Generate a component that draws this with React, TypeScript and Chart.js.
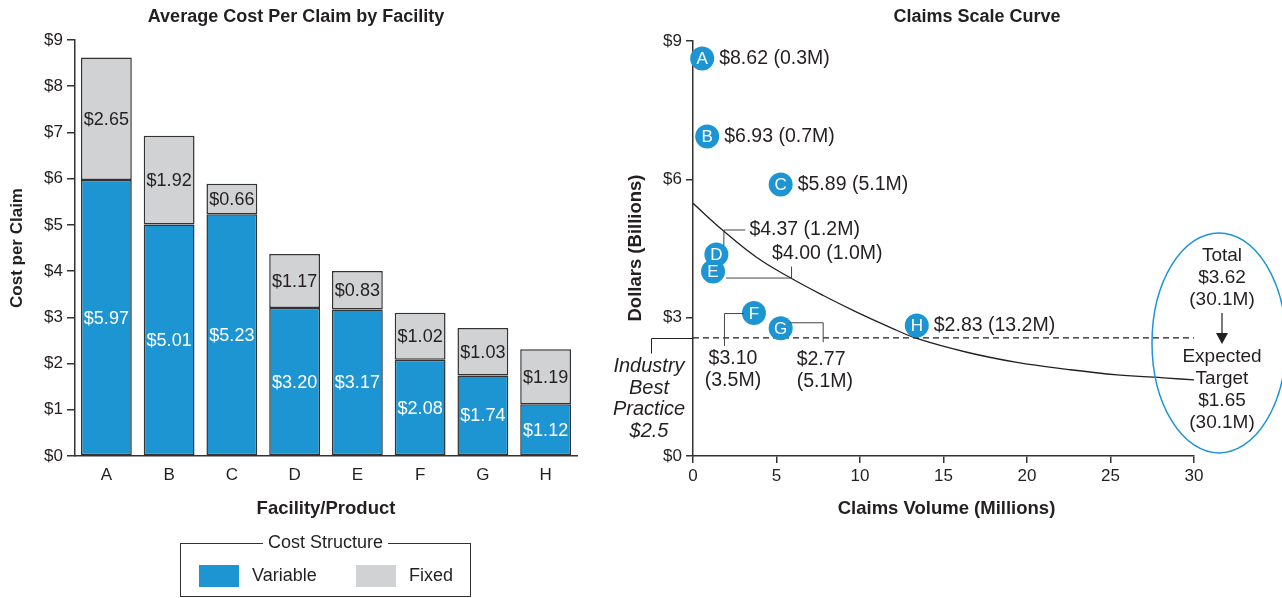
import React, { useEffect, useRef } from 'react';
import { Chart, registerables } from 'chart.js';

Chart.register(...registerables);

// ---------- data: left chart ----------
const facilities = ['A', 'B', 'C', 'D', 'E', 'F', 'G', 'H'];
const variableCost = [5.97, 5.01, 5.23, 3.2, 3.17, 2.08, 1.74, 1.12];
const fixedCost = [2.65, 1.92, 0.66, 1.17, 0.83, 1.02, 1.03, 1.19];
const costTickMax = 9;
const costTickStep = 1;

// ---------- data: right chart ----------
const scaleLetters = ['A', 'B', 'C', 'D', 'E', 'F', 'G', 'H'];
const scaleCost = [8.62, 6.93, 5.89, 4.37, 4.0, 3.1, 2.77, 2.83];
const scaleVolume = [0.3, 0.7, 5.1, 1.2, 1.0, 3.5, 5.1, 13.2];
const scalePlotX = [0.55, 0.85, 5.25, 1.4, 1.2, 3.65, 5.25, 13.4];
const curveX = [0, 1.8, 3.8, 5.8, 7.8, 9.8, 11.8, 13.4, 16.4, 19.4, 22.4, 25.4, 28.4, 30];
const curveY = [5.48, 4.89, 4.31, 3.87, 3.48, 3.12, 2.79, 2.55, 2.25, 2.03, 1.88, 1.76, 1.69, 1.65];
const bestPractice = 2.5;
const bestPracticeLine = 2.56;
const totalCost = 3.62;
const totalVolume = 30.1;
const targetCost = 1.65;
const volumeTickMax = 30;
const volumeTickStep = 5;
const dollarTickMax = 9;
const dollarTickStep = 3;

const FONT = "'Liberation Sans', Arial, Helvetica, sans-serif";
const INK = '#231f20';
const BLUE = '#1e95d3';
const GRAY = '#d1d2d4';
const AXIS = '#333333';

const money = (v: number) => '$' + v.toFixed(2);

const leftPlugin = {
  id: 'leftDecor',
  afterDatasetsDraw(chart: any) {
    const ctx = chart.ctx;
    ctx.save();
    ctx.font = `18px ${FONT}`;
    ctx.textAlign = 'center';
    ctx.textBaseline = 'middle';
    chart.data.datasets.forEach((ds: any, di: number) => {
      const meta = chart.getDatasetMeta(di);
      meta.data.forEach((bar: any, i: number) => {
        const p = bar.getProps(['x', 'y', 'base'], true);
        ctx.fillStyle = di === 0 ? '#ffffff' : INK;
        ctx.fillText(money(ds.data[i]), p.x, (p.y + p.base) / 2 + 1);
      });
    });
    ctx.restore();
  },
  afterDraw(chart: any) {
    const ctx = chart.ctx;
    const area = chart.chartArea;
    ctx.save();
    ctx.fillStyle = INK;
    ctx.textBaseline = 'middle';
    ctx.textAlign = 'center';
    ctx.font = `bold 18px ${FONT}`;
    ctx.fillText('Average Cost Per Claim by Facility', 296, 17);
    ctx.font = `bold 18.5px ${FONT}`;
    ctx.fillText('Facility/Product', (area.left + area.right) / 2, 509);
    ctx.save();
    ctx.font = `bold 17px ${FONT}`;
    ctx.translate(17, 248);
    ctx.rotate(-Math.PI / 2);
    ctx.fillText('Cost per Claim', 0, 0);
    ctx.restore();

    // legend box
    const bx = 180.5, by = 543.5, bw = 290, bh = 53;
    ctx.strokeStyle = AXIS;
    ctx.lineWidth = 1;
    ctx.strokeRect(bx, by, bw, bh);
    ctx.font = `18px ${FONT}`;
    const title = 'Cost Structure';
    const tw = ctx.measureText(title).width;
    const tcx = bx + bw / 2;
    ctx.fillStyle = '#ffffff';
    ctx.fillRect(tcx - tw / 2 - 5, by - 3, tw + 10, 6);
    ctx.fillStyle = INK;
    ctx.fillText(title, tcx, by);
    ctx.textAlign = 'left';
    const items = chart.data.datasets;
    const xs = [199, 356];
    items.forEach((ds: any, i: number) => {
      ctx.fillStyle = ds.backgroundColor;
      ctx.fillRect(xs[i], 565, 40, 22);
      ctx.fillStyle = INK;
      ctx.fillText(ds.label, xs[i] + 53, 576);
    });
    ctx.restore();
  },
};

const rightPlugin = {
  id: 'rightDecor',
  afterDatasetsDraw(chart: any) {
    const ctx = chart.ctx;
    const area = chart.chartArea;
    const ys = chart.scales.y;
    const meta = chart.getDatasetMeta(0);
    const pts = meta.data.map((p: any) => ({ x: p.x, y: p.y }));
    ctx.save();
    // letters in circles
    ctx.fillStyle = '#ffffff';
    ctx.font = `17px ${FONT}`;
    ctx.textAlign = 'center';
    ctx.textBaseline = 'middle';
    pts.forEach((p: any, i: number) => ctx.fillText(scaleLetters[i], p.x, p.y + 1));

    const label = (i: number) => `${money(scaleCost[i])} (${scaleVolume[i].toFixed(1)}M)`;
    ctx.fillStyle = INK;
    ctx.font = `19.5px ${FONT}`;
    ctx.textAlign = 'left';
    [0, 1, 2, 7].forEach((i) => ctx.fillText(label(i), pts[i].x + 17, pts[i].y));

    ctx.strokeStyle = '#444';
    ctx.lineWidth = 1;
    const poly = (arr: number[][]) => {
      ctx.beginPath();
      arr.forEach(([x, y], k) => (k === 0 ? ctx.moveTo(x, y) : ctx.lineTo(x, y)));
      ctx.stroke();
    };
    // D
    const d = pts[3];
    poly([[d.x + 7.5, d.y - 9], [d.x + 7.5, d.y - 24.5], [d.x + 29, d.y - 24.5]]);
    ctx.fillText(label(3), d.x + 33, d.y - 25);
    // E
    const e = pts[4];
    poly([[e.x + 13, e.y + 6.5], [e.x + 78.5, e.y + 6.5], [e.x + 78.5, e.y - 5]]);
    ctx.fillText(label(4), e.x + 59, e.y - 18);
    // F
    const f = pts[5];
    poly([[f.x - 10, f.y + 0.5], [f.x - 29.5, f.y + 0.5], [f.x - 29.5, f.y + 33]]);
    ctx.textAlign = 'center';
    ctx.fillText(money(scaleCost[5]), f.x - 21, f.y + 46);
    ctx.fillText(`(${scaleVolume[5].toFixed(1)}M)`, f.x - 21, f.y + 68);
    // G
    const g = pts[6];
    poly([[g.x + 9, g.y - 5.5], [g.x + 42.5, g.y - 5.5], [g.x + 42.5, g.y + 14]]);
    ctx.textAlign = 'left';
    ctx.fillText(money(scaleCost[6]), g.x + 16, g.y + 31);
    ctx.fillText(`(${scaleVolume[6].toFixed(1)}M)`, g.x + 16, g.y + 53);

    // industry best practice
    const yl = Math.round(ys.getPixelForValue(bestPracticeLine)) + 0.5;
    ctx.strokeStyle = INK;
    poly([[area.left - 41.5, yl + 15], [area.left - 41.5, yl], [area.left, yl]]);
    ctx.font = `italic 20px ${FONT}`;
    ctx.textAlign = 'center';
    const ix = area.left - 44;
    ['Industry', 'Best', 'Practice', `$${bestPractice}`].forEach((t, k) =>
      ctx.fillText(t, ix, yl + 28 + k * 21.7)
    );

    // ellipse
    const ty = ys.getPixelForValue(targetCost);
    const cx = area.right + 25;
    ctx.strokeStyle = BLUE;
    ctx.lineWidth = 1.5;
    ctx.beginPath();
    ctx.ellipse(cx, ty - 37, 67, 110, 0, 0, Math.PI * 2);
    ctx.stroke();
    ctx.fillStyle = INK;
    ctx.font = `19px ${FONT}`;
    const tx = cx + 3;
    ['Total', money(totalCost), `(${totalVolume.toFixed(1)}M)`].forEach((t, k) =>
      ctx.fillText(t, tx, ty - 124 + k * 22)
    );
    ['Expected', 'Target', money(targetCost), `(${totalVolume.toFixed(1)}M)`].forEach((t, k) =>
      ctx.fillText(t, tx, ty - 23 + k * 22)
    );
    ctx.strokeStyle = INK;
    ctx.lineWidth = 1.2;
    poly([[tx, ty - 67], [tx, ty - 46]]);
    ctx.beginPath();
    ctx.moveTo(tx - 6, ty - 47);
    ctx.lineTo(tx + 6, ty - 47);
    ctx.lineTo(tx, ty - 36);
    ctx.closePath();
    ctx.fill();
    ctx.restore();
  },
  afterDraw(chart: any) {
    const ctx = chart.ctx;
    const area = chart.chartArea;
    ctx.save();
    ctx.fillStyle = INK;
    ctx.textAlign = 'center';
    ctx.textBaseline = 'middle';
    ctx.font = `bold 18px ${FONT}`;
    ctx.fillText('Claims Scale Curve', 377, 17);
    ctx.font = `bold 18.5px ${FONT}`;
    ctx.fillText('Claims Volume (Millions)', (area.left + area.right) / 2 + 3, 509);
    ctx.translate(36, 248);
    ctx.rotate(-Math.PI / 2);
    ctx.fillText('Dollars (Billions)', 0, 0);
    ctx.restore();
  },
};

export default function App() {
  const leftRef = useRef<HTMLCanvasElement>(null);
  const rightRef = useRef<HTMLCanvasElement>(null);

  useEffect(() => {
    Chart.defaults.font.family = FONT;
    Chart.defaults.color = INK;

    const left = new Chart(leftRef.current as HTMLCanvasElement, {
      type: 'bar',
      data: {
        labels: facilities,
        datasets: [
          {
            label: 'Variable',
            data: variableCost,
            backgroundColor: BLUE,
            borderColor: AXIS,
            borderWidth: 1.5,
            borderSkipped: false,
            barPercentage: 0.81,
            categoryPercentage: 1,
          },
          {
            label: 'Fixed',
            data: fixedCost,
            backgroundColor: GRAY,
            borderColor: AXIS,
            borderWidth: 1.5,
            borderSkipped: false,
            barPercentage: 0.81,
            categoryPercentage: 1,
          },
        ],
      },
      options: {
        responsive: false,
        animation: false,
        events: [],
        layout: { padding: { left: 0, right: 23, top: 40, bottom: 112 } },
        plugins: { legend: { display: false }, tooltip: { enabled: false }, title: { display: false } },
        scales: {
          x: {
            stacked: true,
            grid: { display: false, drawTicks: false },
            border: { display: true, color: AXIS, width: 1.5 },
            ticks: { color: INK, font: { size: 17 }, padding: 9 },
            afterFit: (s: any) => {
              s.height = 30;
            },
          },
          y: {
            stacked: true,
            min: 0,
            max: costTickMax,
            grid: { display: true, drawOnChartArea: false, drawTicks: true, tickLength: 8, color: AXIS, lineWidth: 1.5 },
            border: { display: true, color: AXIS, width: 1.5 },
            ticks: { stepSize: costTickStep, color: INK, font: { size: 17 }, padding: 4, callback: (v: any) => '$' + v },
            afterFit: (s: any) => {
              s.width = 75;
            },
          },
        },
      },
      plugins: [leftPlugin],
    } as any);

    const right = new Chart(rightRef.current as HTMLCanvasElement, {
      type: 'scatter',
      data: {
        datasets: [
          {
            label: 'Facilities',
            data: scalePlotX.map((x, i) => ({ x, y: scaleCost[i] })),
            pointRadius: 12,
            pointHoverRadius: 12,
            pointBackgroundColor: BLUE,
            pointBorderColor: BLUE,
            pointBorderWidth: 0,
            clip: false,
          },
          {
            label: 'Scale curve',
            data: curveX.map((x, i) => ({ x, y: curveY[i] })),
            showLine: true,
            borderColor: INK,
            borderWidth: 1.3,
            pointRadius: 0,
            tension: 0.4,
          },
          {
            label: 'Industry best practice',
            data: [
              { x: 0, y: bestPracticeLine },
              { x: volumeTickMax, y: bestPracticeLine },
            ],
            showLine: true,
            borderColor: INK,
            borderWidth: 1.2,
            borderDash: [6, 4],
            pointRadius: 0,
          },
        ],
      },
      options: {
        responsive: false,
        animation: false,
        events: [],
        layout: { padding: { left: 0, right: 88, top: 41, bottom: 112 } },
        plugins: { legend: { display: false }, tooltip: { enabled: false }, title: { display: false } },
        scales: {
          x: {
            type: 'linear',
            min: 0,
            max: volumeTickMax,
            grid: { display: true, drawOnChartArea: false, drawTicks: true, tickLength: 7, color: AXIS, lineWidth: 1.5 },
            border: { display: true, color: AXIS, width: 1.5 },
            ticks: { stepSize: volumeTickStep, color: INK, font: { size: 17 }, padding: 3 },
            afterFit: (s: any) => {
              s.height = 30;
            },
          },
          y: {
            min: 0,
            max: dollarTickMax,
            grid: { display: true, drawOnChartArea: false, drawTicks: true, tickLength: 7, color: AXIS, lineWidth: 1.5 },
            border: { display: true, color: AXIS, width: 1.5 },
            ticks: { stepSize: dollarTickStep, color: INK, font: { size: 17 }, padding: 4, callback: (v: any) => '$' + v },
            afterFit: (s: any) => {
              s.width = 93;
            },
          },
        },
      },
      plugins: [rightPlugin],
    } as any);

    return () => {
      left.destroy();
      right.destroy();
    };
  }, []);

  return (
    <div style={{ position: 'absolute', left: 0, top: 0, width: 1282, height: 598, background: '#fff', overflow: 'hidden' }}>
      <div style={{ position: 'absolute', left: 0, top: 0, width: 600, height: 598 }}>
        <canvas ref={leftRef} width={600} height={598} />
      </div>
      <div style={{ position: 'absolute', left: 600, top: 0, width: 682, height: 598 }}>
        <canvas ref={rightRef} width={682} height={598} />
      </div>
    </div>
  );
}
